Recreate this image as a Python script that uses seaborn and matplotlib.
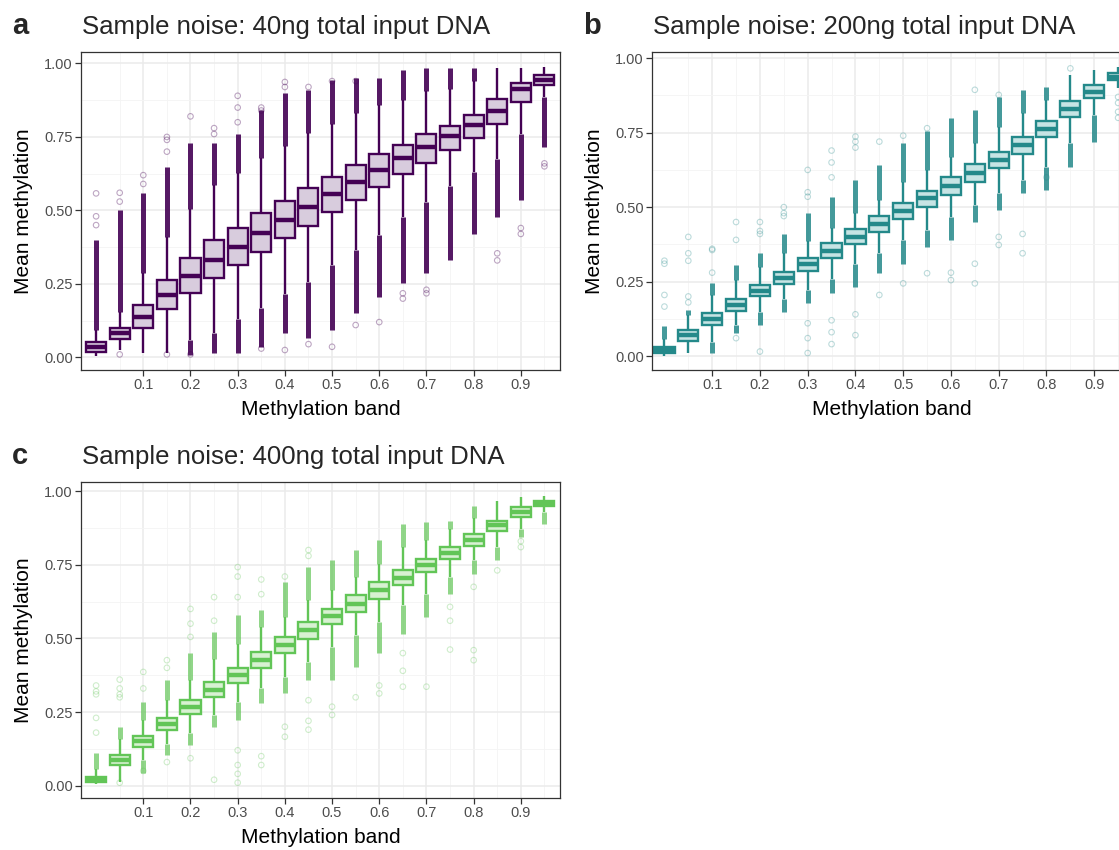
import numpy as np
import pandas as pd
import matplotlib
matplotlib.use("Agg")
import matplotlib.pyplot as plt
import seaborn as sns

nan = np.nan
bands = [0.00, 0.05, 0.10, 0.15, 0.20, 0.25, 0.30, 0.35, 0.40, 0.45,
         0.50, 0.55, 0.60, 0.65, 0.70, 0.75, 0.80, 0.85, 0.90, 0.95]

# panel a: 40ng
a_lo = [0.005, 0.025, 0.015, 0.015, 0.060, 0.082, 0.130, 0.168, 0.216, 0.258,
        0.315, 0.365, 0.415, 0.476, 0.530, 0.582, 0.630, 0.675, 0.760, 0.887]
a_q1 = [0.017, 0.061, 0.101, 0.163, 0.218, 0.269, 0.314, 0.359, 0.405, 0.447,
        0.493, 0.537, 0.580, 0.624, 0.663, 0.705, 0.745, 0.794, 0.868, 0.926]
a_med = [0.036, 0.082, 0.138, 0.212, 0.278, 0.331, 0.376, 0.424, 0.467, 0.510,
         0.556, 0.598, 0.637, 0.677, 0.717, 0.753, 0.789, 0.839, 0.912, 0.943]
a_q3 = [0.053, 0.099, 0.178, 0.263, 0.337, 0.399, 0.441, 0.490, 0.532, 0.575,
        0.615, 0.656, 0.692, 0.724, 0.760, 0.788, 0.824, 0.878, 0.934, 0.960]
a_hi = [0.093, 0.155, 0.287, 0.410, 0.505, 0.585, 0.628, 0.680, 0.720, 0.765,
        0.795, 0.830, 0.860, 0.875, 0.905, 0.913, 0.942, 0.983, 0.983, 0.989]
a_top_end = [0.40, 0.50, 0.558, 0.648, 0.728, 0.728, 0.76, 0.84, 0.90, 0.91,
             0.945, 0.95, 0.95, 0.977, 0.983, 0.983, 0.983, nan, nan, nan]
a_bot_end = [nan, nan, nan, nan, 0.008, 0.015, 0.015, 0.036, 0.082, 0.065,
             0.093, 0.15, 0.206, 0.252, 0.286, 0.331, 0.42, 0.478, 0.535, 0.717]
a_out_x = [0.00, 0.00, 0.00, 0.05, 0.05, 0.05, 0.10, 0.10, 0.15, 0.15, 0.15, 0.15,
           0.20, 0.20, 0.25, 0.25, 0.30, 0.30, 0.30, 0.35, 0.35, 0.35, 0.40, 0.40,
           0.40, 0.45, 0.45, 0.50, 0.50, 0.55, 0.55, 0.60, 0.65, 0.65, 0.70, 0.70,
           0.85, 0.85, 0.90, 0.90, 0.95, 0.95]
a_out_y = [0.558, 0.48, 0.45, 0.56, 0.53, 0.010, 0.62, 0.59, 0.75, 0.74, 0.70, 0.010,
           0.82, 0.010, 0.78, 0.76, 0.89, 0.85, 0.80, 0.85, 0.84, 0.030, 0.937, 0.92,
           0.025, 0.92, 0.045, 0.94, 0.036, 0.94, 0.11, 0.12, 0.218, 0.20, 0.218, 0.23,
           0.354, 0.33, 0.42, 0.44, 0.65, 0.66]

# panel b: 200ng
b_lo = [0.000, 0.009, 0.048, 0.104, 0.149, 0.190, 0.220, 0.260, 0.310, 0.345,
        0.390, 0.423, 0.468, 0.507, 0.546, 0.590, 0.636, 0.714, 0.810, 0.900]
b_q1 = [0.011, 0.052, 0.104, 0.152, 0.200, 0.242, 0.287, 0.330, 0.375, 0.418,
        0.459, 0.502, 0.541, 0.586, 0.630, 0.679, 0.735, 0.804, 0.866, 0.927]
b_med = [0.020, 0.070, 0.124, 0.171, 0.219, 0.263, 0.309, 0.354, 0.400, 0.445,
         0.487, 0.529, 0.571, 0.616, 0.658, 0.707, 0.763, 0.831, 0.888, 0.938]
b_q3 = [0.030, 0.087, 0.143, 0.190, 0.238, 0.283, 0.330, 0.378, 0.425, 0.470,
        0.513, 0.555, 0.600, 0.644, 0.686, 0.735, 0.790, 0.858, 0.910, 0.950]
b_hi = [0.058, 0.138, 0.205, 0.255, 0.300, 0.345, 0.385, 0.430, 0.480, 0.525,
        0.586, 0.625, 0.670, 0.714, 0.770, 0.815, 0.860, 0.945, 0.960, 0.972]
b_top_end = [0.10, 0.155, 0.245, 0.305, 0.345, 0.41, 0.48, 0.535, 0.59, 0.64,
             0.714, 0.754, 0.80, 0.826, 0.87, 0.894, 0.905, nan, nan, nan]
b_bot_end = [nan, nan, 0.009, 0.076, 0.104, 0.149, 0.177, 0.21, 0.233, 0.278,
             0.31, 0.367, 0.39, 0.451, 0.49, 0.546, 0.558, 0.636, 0.72, nan]
b_out_x = [0.00, 0.00, 0.00, 0.00, 0.05, 0.05, 0.05, 0.05, 0.05, 0.10, 0.10, 0.10,
           0.15, 0.15, 0.15, 0.20, 0.20, 0.20, 0.20, 0.25, 0.25, 0.25, 0.30, 0.30,
           0.30, 0.30, 0.30, 0.30, 0.35, 0.35, 0.35, 0.35, 0.35, 0.35, 0.40, 0.40,
           0.40, 0.40, 0.40, 0.45, 0.45, 0.50, 0.50, 0.55, 0.55, 0.60, 0.60, 0.65,
           0.65, 0.65, 0.70, 0.70, 0.70, 0.75, 0.75, 0.80, 0.85, 0.95, 0.95, 0.95,
           0.95]
b_out_y = [0.166, 0.205, 0.32, 0.31, 0.20, 0.18, 0.32, 0.345, 0.40, 0.28, 0.356, 0.36,
           0.45, 0.39, 0.06, 0.45, 0.42, 0.41, 0.015, 0.50, 0.47, 0.48, 0.625, 0.55,
           0.535, 0.11, 0.06, 0.01, 0.69, 0.65, 0.60, 0.12, 0.08, 0.04, 0.737, 0.72,
           0.70, 0.14, 0.07, 0.72, 0.205, 0.244, 0.74, 0.765, 0.278, 0.255, 0.28, 0.894,
           0.31, 0.244, 0.877, 0.40, 0.373, 0.41, 0.345, 0.60, 0.966, 0.87, 0.85, 0.82,
           0.80]

# panel c: 400ng
c_lo = [0.005, 0.014, 0.087, 0.140, 0.180, 0.240, 0.285, 0.330, 0.370, 0.420,
        0.470, 0.510, 0.555, 0.612, 0.652, 0.708, 0.765, 0.810, 0.872, 0.930]
c_q1 = [0.014, 0.070, 0.132, 0.189, 0.243, 0.300, 0.347, 0.398, 0.449, 0.499,
        0.548, 0.590, 0.635, 0.680, 0.725, 0.768, 0.812, 0.863, 0.912, 0.951]
c_med = [0.022, 0.087, 0.151, 0.209, 0.268, 0.325, 0.375, 0.426, 0.477, 0.528,
         0.575, 0.618, 0.663, 0.706, 0.748, 0.790, 0.833, 0.884, 0.929, 0.960]
c_q3 = [0.031, 0.104, 0.170, 0.228, 0.290, 0.352, 0.400, 0.454, 0.505, 0.556,
        0.600, 0.646, 0.690, 0.731, 0.770, 0.810, 0.853, 0.900, 0.946, 0.968]
c_hi = [0.055, 0.160, 0.222, 0.290, 0.360, 0.430, 0.480, 0.539, 0.573, 0.629,
        0.663, 0.708, 0.754, 0.810, 0.833, 0.870, 0.910, 0.968, 0.980, 0.985]
c_top_end = [0.11, 0.20, 0.285, 0.358, 0.449, 0.52, 0.58, 0.595, 0.69, 0.742,
             0.765, 0.80, 0.833, 0.89, 0.895, 0.90, 0.95, nan, nan, nan]
c_bot_end = [nan, nan, 0.042, 0.104, 0.138, 0.20, 0.223, 0.28, 0.313, 0.358,
             0.358, 0.403, 0.449, 0.516, 0.573, 0.652, 0.72, 0.765, 0.844, 0.89]
c_out_x = [0.00, 0.00, 0.00, 0.00, 0.00, 0.05, 0.05, 0.05, 0.05, 0.05, 0.10, 0.10,
           0.10, 0.15, 0.15, 0.15, 0.20, 0.20, 0.20, 0.20, 0.25, 0.25, 0.25, 0.30,
           0.30, 0.30, 0.30, 0.30, 0.30, 0.30, 0.35, 0.35, 0.35, 0.35, 0.40, 0.40,
           0.40, 0.45, 0.45, 0.45, 0.45, 0.45, 0.50, 0.50, 0.55, 0.60, 0.60, 0.65,
           0.65, 0.65, 0.70, 0.75, 0.75, 0.75, 0.80, 0.80, 0.80, 0.85, 0.90, 0.90]
c_out_y = [0.34, 0.32, 0.31, 0.23, 0.18, 0.36, 0.33, 0.31, 0.30, 0.010, 0.386, 0.33,
           0.05, 0.426, 0.40, 0.08, 0.60, 0.55, 0.505, 0.093, 0.64, 0.56, 0.02, 0.742,
           0.71, 0.64, 0.12, 0.07, 0.04, 0.01, 0.70, 0.65, 0.10, 0.07, 0.71, 0.166,
           0.20, 0.80, 0.78, 0.29, 0.22, 0.19, 0.268, 0.24, 0.30, 0.313, 0.34, 0.45,
           0.39, 0.336, 0.336, 0.607, 0.56, 0.462, 0.675, 0.46, 0.426, 0.731, 0.81, 0.83]

panels = [
    dict(letter="a", title="Sample noise: 40ng total input DNA",
         lo=a_lo, q1=a_q1, med=a_med, q3=a_q3, hi=a_hi,
         top_end=a_top_end, bot_end=a_bot_end, out_x=a_out_x, out_y=a_out_y,
         line="#440154", fill="#D8CCDD", strip_alpha=0.9, pt_alpha=0.35,
         pos=[81, 52, 479, 318], xlim=(-0.032, 0.983), ylim=(-0.043, 1.039)),
    dict(letter="b", title="Sample noise: 200ng total input DNA",
         lo=b_lo, q1=b_q1, med=b_med, q3=b_q3, hi=b_hi,
         top_end=b_top_end, bot_end=b_bot_end, out_x=b_out_x, out_y=b_out_y,
         line="#24898A", fill="#C6E4E4", strip_alpha=0.85, pt_alpha=0.3,
         pos=[652, 52, 479, 318], xlim=(-0.026, 0.977), ylim=(-0.047, 1.021)),
    dict(letter="c", title="Sample noise: 400ng total input DNA",
         lo=c_lo, q1=c_q1, med=c_med, q3=c_q3, hi=c_hi,
         top_end=c_top_end, bot_end=c_bot_end, out_x=c_out_x, out_y=c_out_y,
         line="#62C557", fill="#D8F1D2", strip_alpha=0.7, pt_alpha=0.3,
         pos=[81, 482, 479, 316], xlim=(-0.032, 0.983), ylim=(-0.042, 1.031)),
]

sns.set_theme(style="white")
plt.rcParams["font.family"] = ["Liberation Sans", "DejaVu Sans"]

W, H = 1119, 850
fig = plt.figure(figsize=(W / 100, H / 100), dpi=100)

for p in panels:
    l, t, w, h = p["pos"]
    ax = fig.add_axes([l / W, 1 - (t + h) / H, w / W, h / H])

    # long table: quartile blocks so the library's stats land on the read values
    rows = []
    for i, b in enumerate(bands):
        vals = [p["lo"][i]] + [p["q1"][i]] * 4 + [p["med"][i]] * 4 + [p["q3"][i]] * 4 + [p["hi"][i]]
        rows += [(b, v) for v in vals]
    df = pd.DataFrame(rows, columns=["band", "value"])

    # grid behind everything
    ax.set_axisbelow(True)
    ax.set_xticks([0.1, 0.2, 0.3, 0.4, 0.5, 0.6, 0.7, 0.8, 0.9])
    ax.set_xticks([0.05, 0.15, 0.25, 0.35, 0.45, 0.55, 0.65, 0.75, 0.85, 0.95], minor=True)
    ax.set_yticks([0, 0.25, 0.5, 0.75, 1.0])
    ax.set_yticks([0.125, 0.375, 0.625, 0.875], minor=True)
    ax.grid(which="major", color="#EBEBEB", lw=1.1)
    ax.grid(which="minor", color="#F4F4F4", lw=0.6)

    # dense outlier strips
    bx = np.array(bands)
    te = np.array(p["top_end"])
    be = np.array(p["bot_end"])
    m = ~np.isnan(te)
    ax.vlines(bx[m], np.array(p["hi"])[m], te[m], colors=p["line"], lw=3.6,
              alpha=p["strip_alpha"], zorder=1.5)
    m = ~np.isnan(be)
    ax.vlines(bx[m], be[m], np.array(p["lo"])[m], colors=p["line"], lw=3.6,
              alpha=p["strip_alpha"], zorder=1.5)
    ax.scatter(p["out_x"], p["out_y"], s=16, facecolors="none", edgecolors=p["line"],
               linewidths=0.8, alpha=p["pt_alpha"], zorder=1.6)

    sns.boxplot(data=df, x="band", y="value", native_scale=True, ax=ax,
                color=p["fill"], linecolor=p["line"], saturation=1, width=0.85,
                whis=(0, 100), linewidth=1.7, showcaps=False, showfliers=False,
                medianprops=dict(linewidth=3.2, color=p["line"]))

    ax.set_xlim(*p["xlim"])
    ax.set_ylim(*p["ylim"])
    ax.set_xticklabels(["0.1", "0.2", "0.3", "0.4", "0.5", "0.6", "0.7", "0.8", "0.9"])
    ax.set_yticklabels(["0.00", "0.25", "0.50", "0.75", "1.00"])
    ax.tick_params(which="major", length=4, width=0.9, color="#333333",
                   labelcolor="#4D4D4D", labelsize=10.5, pad=2,
                   bottom=True, left=True)
    ax.tick_params(which="minor", length=0)
    for s in ax.spines.values():
        s.set_color("#333333")
        s.set_linewidth(0.9)

    ax.set_xlabel("Methylation band", fontsize=15, color="black")
    ax.set_ylabel("Mean methylation", fontsize=15, color="black")
    ax.xaxis.set_label_coords(0.5, -0.095)
    ax.yaxis.set_label_coords(-0.10, 0.5)

    base = t - 18
    fig.text((l - 69) / W, 1 - base / H, p["letter"], fontsize=21, fontweight="bold",
             va="baseline", ha="left")
    fig.text((l + 1) / W, 1 - base / H, p["title"], fontsize=18.5,
             va="baseline", ha="left")

fig.savefig("out.png", dpi=100)
